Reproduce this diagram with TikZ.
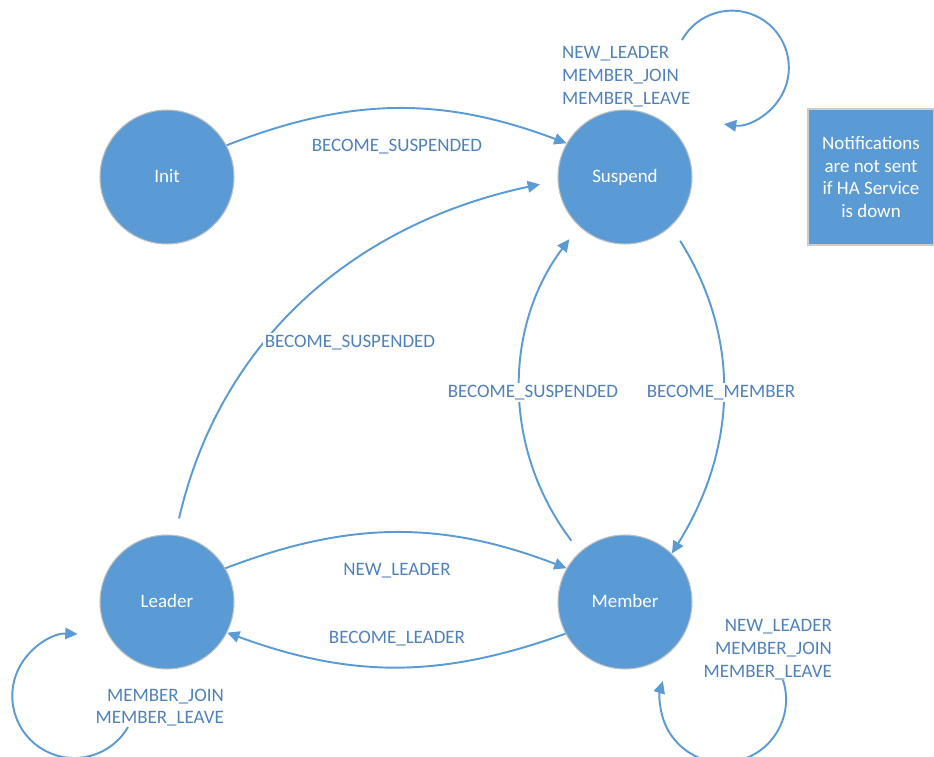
\documentclass[tikz,border=0pt]{standalone}
\usepackage{fontspec}
\setmainfont{Carlito}
\usetikzlibrary{arrows.meta}
\definecolor{stateblue}{HTML}{5B9BD5}
\definecolor{eventblue}{HTML}{4F81BD}

\begin{document}
\begin{tikzpicture}[x=0.02cm, y=0.02cm, font=\fontsize{10.8}{13}\selectfont]

        % Styles
        \tikzstyle{state}=[circle, fill=stateblue, draw=black!25, line width=0.6pt, minimum size=2.68cm, inner sep=0pt, text=white, text height=1.6ex, text depth=0.4ex]
        \tikzstyle{transition}=[draw=stateblue, line width=1.1pt, -{Triangle[length=7pt,width=6.5pt]}]
        \tikzstyle{event}=[text=eventblue, inner sep=1pt, yshift=-1.5pt]
        \tikzstyle{note}=[rectangle, fill=stateblue, draw=black!20, line width=0.6pt, minimum width=2.52cm, minimum height=2.72cm, text=white, align=center]
        %The graphic
        \useasboundingbox (0,-757) rectangle (934,0);
        \clip (0,-757) rectangle (934,0);
        %states
        \node[state] (init) at (167,-177) {Init};
        \node[state] (suspend) at (625,-177) {Suspend};
        \node[state] (leader) at (167,-602) {Leader};
        \node[state] (member) at (625,-602) {Member};
        \node[note] (hanote) at (871,-177) {Notifications\\are not sent\\if HA Service\\is down};
        %transitions
        \draw[transition] (init.28) to[bend left=21] (suspend.150);
        \draw[transition, shorten <=0.34cm, shorten >=0.36cm] (leader.83) to[out=77, in=192] (suspend.183);
        \draw[transition, shorten <=0.28cm, shorten >=0.32cm] (member.132) to[bend left=37] (suspend.227);
        \draw[transition, shorten <=0.34cm] (suspend.313) to[bend left=32] (member.46);
        \draw[transition] (leader.30) to[bend left=21] (member.150);
        \draw[transition] (member.208) to[bend left=20] (leader.333);
        %self loops
        \begin{scope}[style=transition]
            \coordinate (sloop) at (682,-40);
            \coordinate (lloop) at (128,-727);
            \coordinate (mloop) at (783,-680);
            \draw (sloop) arc[start angle=151, end angle=-98, radius=57];
            \draw (lloop) arc[start angle=-30, end angle=-273, radius=62];
            \draw (mloop) arc[start angle=18, end angle=-197, radius=63];
        \end{scope}
        %events
        \node[event] (initsusp) at (397,-144) {BECOME\_SUSPENDED};
        \node[event, fill=white] (leadsusp) at (350,-340) {BECOME\_SUSPENDED};
        \node[event, fill=white] (memsusp) at (533,-390) {BECOME\_SUSPENDED};
        \node[event, fill=white] (suspmem) at (721,-390) {BECOME\_MEMBER};
        \node[event] (newlead) at (397,-568) {NEW\_LEADER};
        \node[event] (becomelead) at (397,-636) {BECOME\_LEADER};
        \node[event, anchor=west, align=left] (susploop) at (560,-74) {NEW\_LEADER\\MEMBER\_JOIN\\MEMBER\_LEAVE};
        \node[event, anchor=east, align=right] (memloop) at (834,-647) {NEW\_LEADER\\MEMBER\_JOIN\\MEMBER\_LEAVE};
        \node[event, anchor=east, align=right] (leadloop) at (226,-705) {MEMBER\_JOIN\\MEMBER\_LEAVE};
\end{tikzpicture}
\end{document}
